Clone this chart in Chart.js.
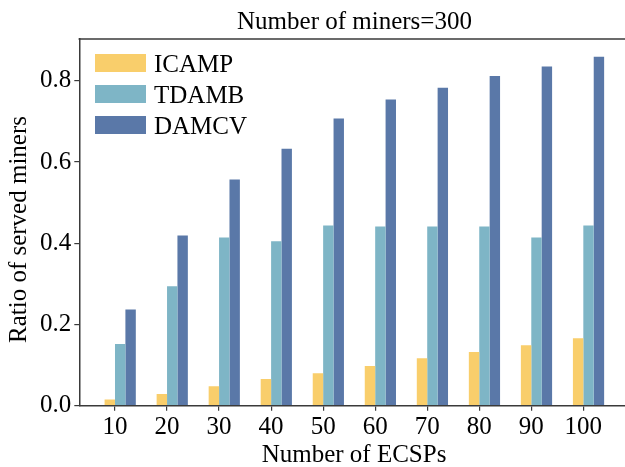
<!DOCTYPE html>
<html><head><meta charset="utf-8">
<script src="https://cdn.jsdelivr.net/npm/chart.js@4/dist/chart.umd.min.js"></script>
<style>html,body{margin:0;padding:0;background:#fff;overflow:hidden;}</style>
</head><body>
<canvas id="c" width="625" height="467"></canvas>
<script>
const categories = [10, 20, 30, 40, 50, 60, 70, 80, 90, 100];
const icamp = [0.015, 0.029, 0.048, 0.066, 0.080, 0.098, 0.117, 0.132, 0.149, 0.166];
const tdamb = [0.152, 0.294, 0.414, 0.405, 0.444, 0.441, 0.441, 0.441, 0.414, 0.444];
const damcv = [0.237, 0.419, 0.557, 0.633, 0.707, 0.754, 0.783, 0.812, 0.835, 0.859];
const yTicks = [0.0, 0.2, 0.4, 0.6, 0.8];
const seriesNames = ['ICAMP', 'TDAMB', 'DAMCV'];
const seriesColors = ['#F9CE6B', '#7EB5C6', '#5A78A8'];
const titleText = 'Number of miners=300';
const xTitle = 'Number of ECSPs';
const yTitle = 'Ratio of served miners';

const FONT = "'Liberation Serif', 'Times New Roman', serif";
const AXIS = '#3a3a3a';
Chart.defaults.font.family = FONT;
Chart.defaults.font.size = 25;
Chart.defaults.color = '#000';

function pts(vals) { return categories.map((c, i) => ({ x: c, y: vals[i] })); }

const extras = {
  id: 'extras',
  afterDraw(chart) {
    const ctx = chart.ctx, a = chart.chartArea;
    ctx.save();
    ctx.strokeStyle = AXIS; ctx.lineWidth = 1.5;
    ctx.beginPath(); ctx.moveTo(a.left - 0.75, a.top); ctx.lineTo(a.right, a.top); ctx.stroke();
    ctx.fillStyle = '#000';
    ctx.font = '25px ' + FONT;
    ctx.textBaseline = 'alphabetic';
    ctx.textAlign = 'center';
    ctx.fillText(titleText, 354.5, 29);
    ctx.fillText(xTitle, 354, 462);
    ctx.save();
    ctx.translate(26, 229.5);
    ctx.rotate(-Math.PI / 2);
    ctx.fillText(yTitle, 0, 0);
    ctx.restore();
    ctx.textAlign = 'left';
    chart.data.datasets.forEach((ds, i) => {
      ctx.fillStyle = ds.backgroundColor;
      ctx.fillRect(95, 54 + 31 * i, 51, 18);
      ctx.fillStyle = '#000';
      ctx.fillText(ds.label, 154, 72 + 31 * i);
    });
    ctx.restore();
  }
};

new Chart(document.getElementById('c'), {
  type: 'bar',
  data: {
    datasets: seriesNames.map((n, k) => ({
      label: n,
      data: pts([icamp, tdamb, damcv][k]),
      backgroundColor: seriesColors[k],
      borderWidth: 0,
      categoryPercentage: 0.6,
      barPercentage: 1.0
    }))
  },
  options: {
    responsive: false,
    devicePixelRatio: 1,
    animation: false,
    layout: { padding: { top: 39, left: 0, right: 0, bottom: 0 } },
    plugins: { legend: { display: false }, title: { display: false }, tooltip: { enabled: false } },
    scales: {
      x: {
        type: 'linear', display: false, min: 2.14, max: 107.01, offset: false,
        grid: { offset: false }
      },
      xt: {
        type: 'linear', position: 'bottom', min: 3.14, max: 108.01, offset: false,
        afterBuildTicks: s => { s.ticks = categories.map(v => ({ value: v })); },
        afterFit: s => { s.height = 467 - 405.7; },
        grid: { display: true, offset: false, drawOnChartArea: false, drawTicks: true, tickLength: 5, color: AXIS, lineWidth: 1.2 },
        border: { display: true, color: AXIS, width: 1.5 },
        ticks: { color: '#000', font: { family: FONT, size: 25 }, padding: 2, maxRotation: 0, autoSkip: false, callback: v => String(v) }
      },
      y: {
        type: 'linear', min: 0, max: 0.903,
        afterBuildTicks: s => { s.ticks = yTicks.map(v => ({ value: v })); },
        afterFit: s => { s.width = 79.3; },
        grid: { display: true, drawOnChartArea: false, drawTicks: true, tickLength: 5, color: AXIS, lineWidth: 1.2 },
        border: { display: true, color: AXIS, width: 1.5 },
        ticks: { color: '#000', font: { family: FONT, size: 25 }, padding: 3, callback: v => v.toFixed(1) }
      }
    }
  },
  plugins: [extras]
});
</script>
</body></html>
